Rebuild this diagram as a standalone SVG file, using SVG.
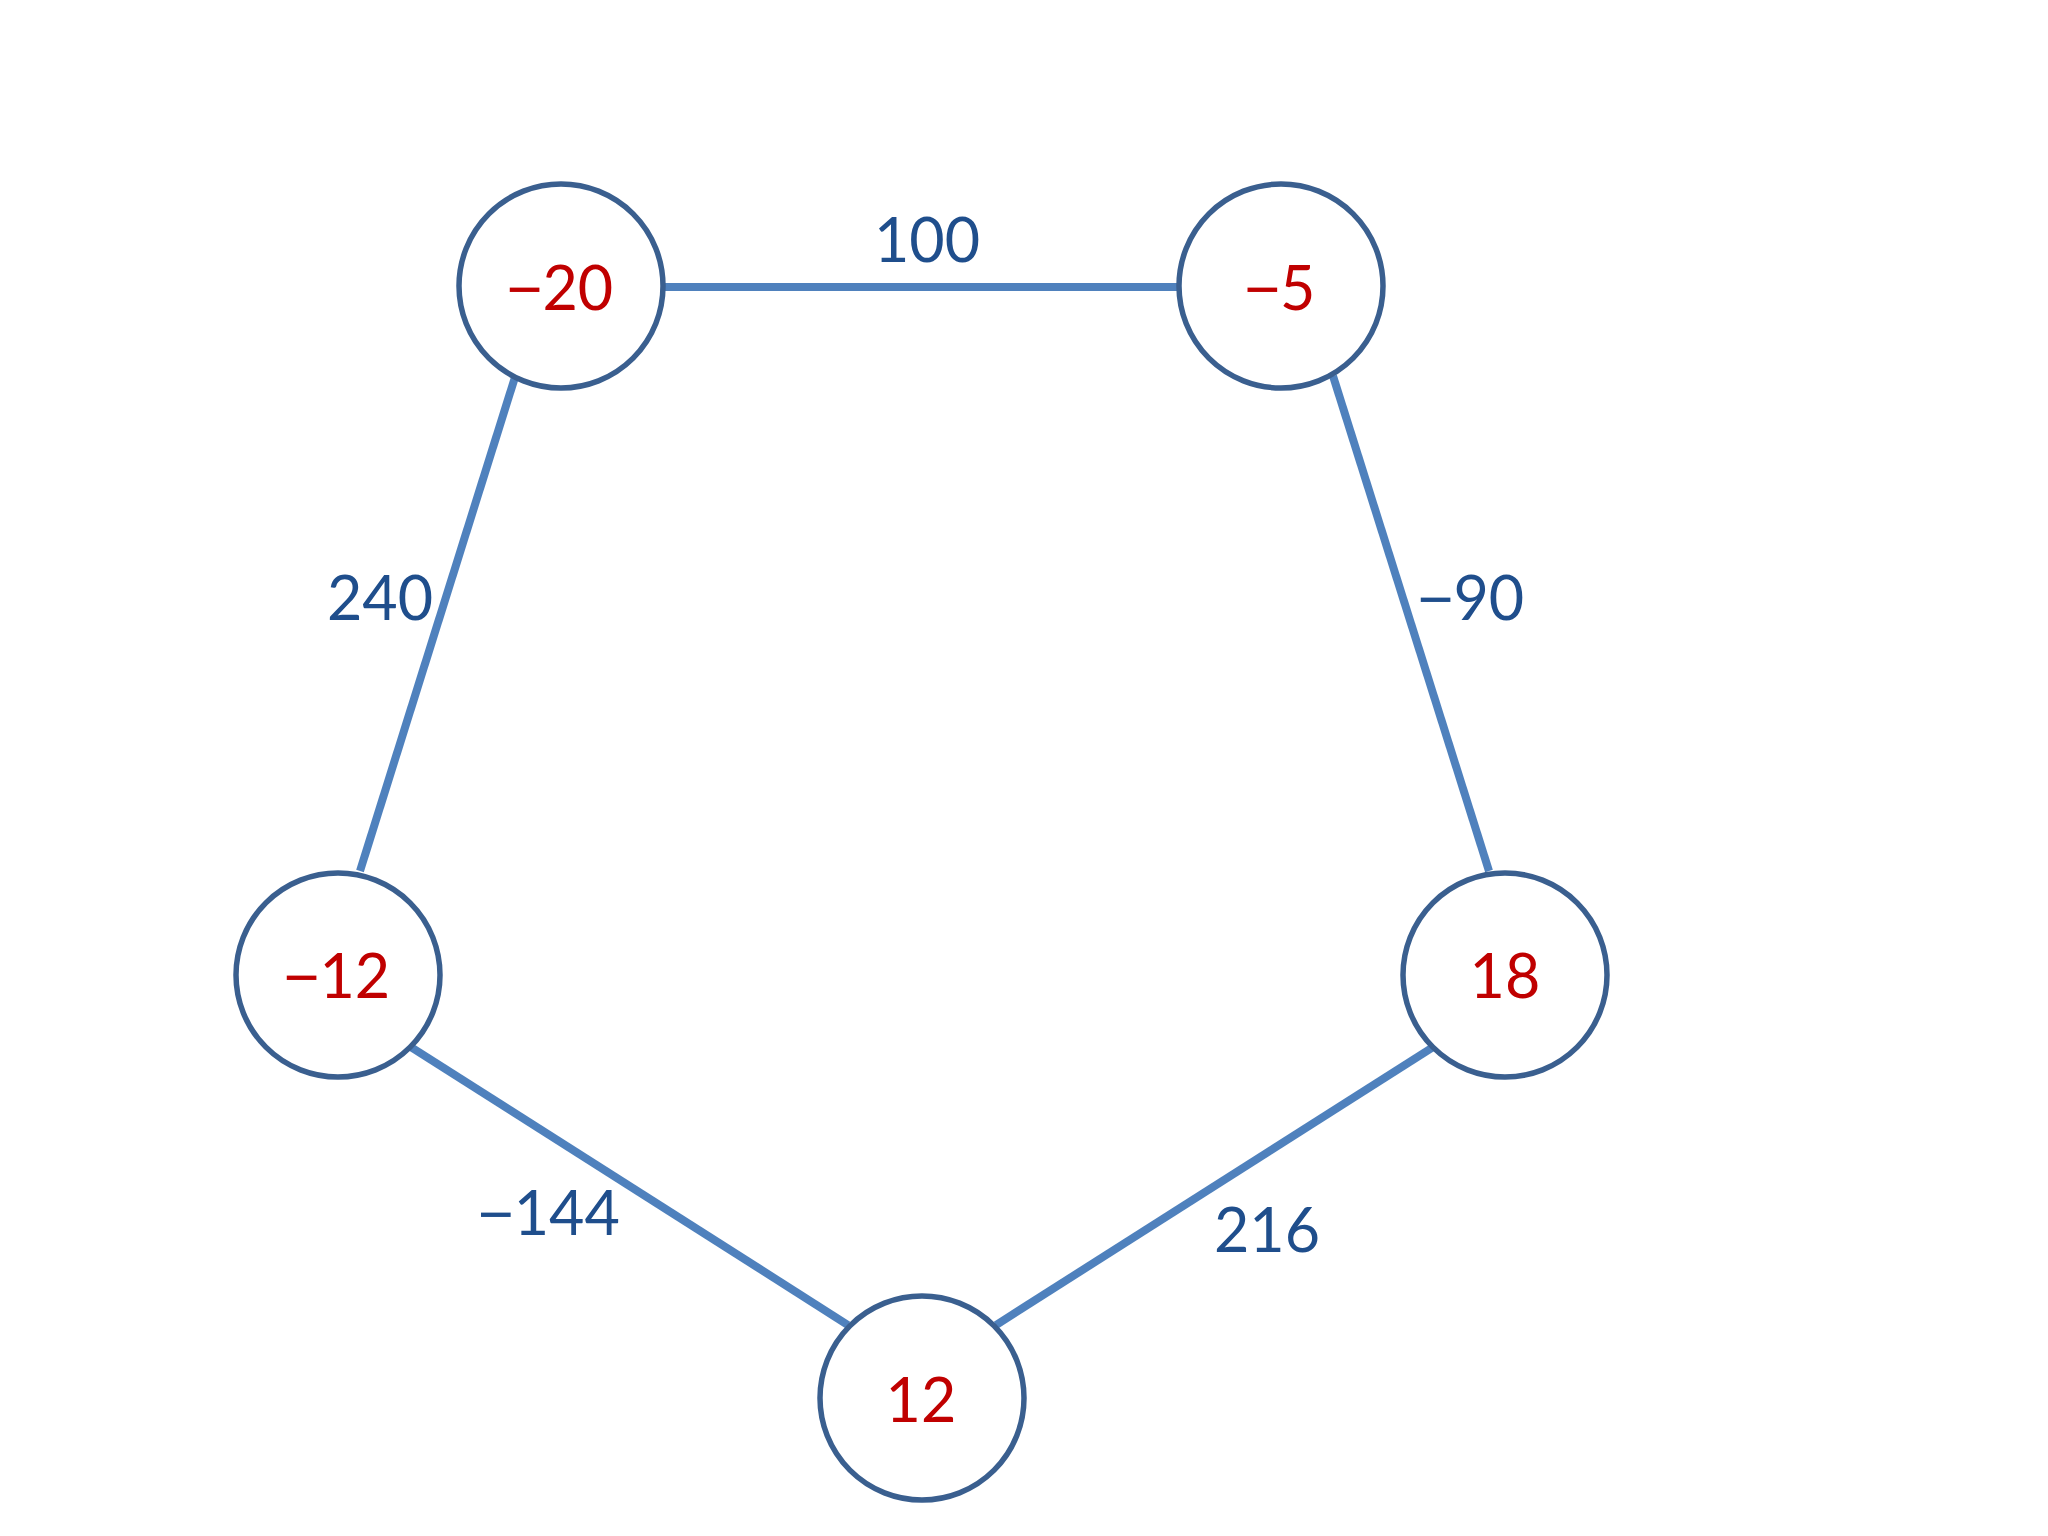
<svg xmlns="http://www.w3.org/2000/svg" width="2048" height="1536" viewBox="0 0 2048 1536">
<style>
.node{fill:#ffffff;stroke:#3A5F8F;stroke-width:5.5}
.val{font-family:Lato,"Open Sans","Liberation Sans",sans-serif;font-size:61px;fill:#C00000;text-anchor:middle}
.edge{stroke:#4F81BD;stroke-width:8;fill:none}
.lbl{font-family:Lato,"Open Sans","Liberation Sans",sans-serif;font-size:61px;fill:#1F4E8C;text-anchor:middle}
.m{font-family:"Liberation Sans",sans-serif}
</style>
<rect width="2048" height="1536" fill="#ffffff"/>
<g id="connectors">
<line class="edge" x1="661" y1="287" x2="1181" y2="287"/>
<line class="edge" x1="516" y1="374" x2="360" y2="871"/>
<line class="edge" x1="1333" y1="376" x2="1489" y2="871"/>
<line class="edge" x1="411" y1="1047" x2="848" y2="1325"/>
<line class="edge" x1="1433" y1="1047" x2="996" y2="1325"/>
<text class="lbl" x="927" y="262">100</text>
<text class="lbl" x="380" y="620">240</text>
<text class="lbl" x="1471" y="620"><tspan class="m">−</tspan>90</text>
<text class="lbl" x="549" y="1235"><tspan class="m">−</tspan>144</text>
<text class="lbl" x="1267" y="1252">216</text>
</g>
<g id="node-n20"><circle class="node" cx="561" cy="286" r="102"/><text class="val" x="560" y="310"><tspan class="m">−</tspan>20</text></g>
<g id="node-n5"><circle class="node" cx="1281" cy="286" r="102"/><text class="val" x="1280" y="310"><tspan class="m">−</tspan>5</text></g>
<g id="node-n12"><circle class="node" cx="338" cy="975" r="102"/><text class="val" x="337" y="998"><tspan class="m">−</tspan>12</text></g>
<g id="node-18"><circle class="node" cx="1505" cy="975" r="102"/><text class="val" x="1505" y="998">18</text></g>
<g id="node-12"><circle class="node" cx="922" cy="1398" r="102"/><text class="val" x="921" y="1422">12</text></g>
</svg>
